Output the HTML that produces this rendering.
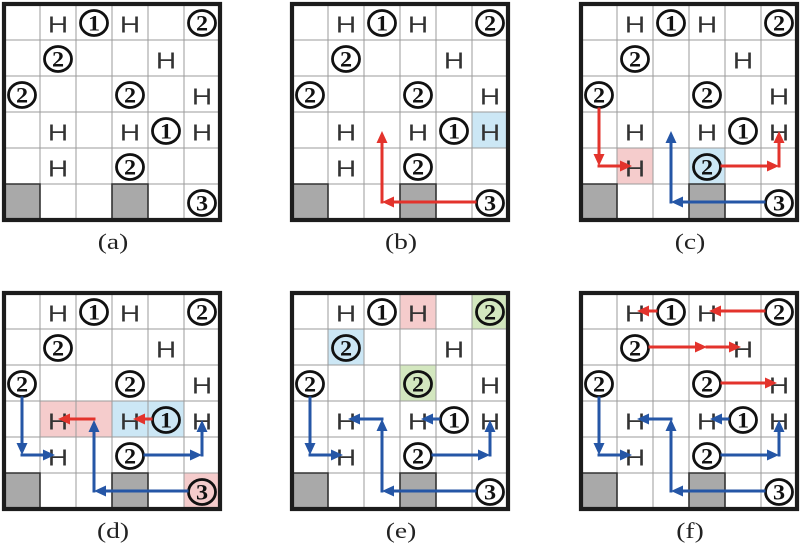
<!DOCTYPE html>
<html>
<head>
<meta charset="utf-8">
<style>
html,body{margin:0;padding:0;background:#fff;}
svg{display:block;}
.h{font-family:"Liberation Sans",sans-serif;font-size:23px;fill:#333;text-anchor:middle;}
.n{font-family:"Liberation Serif",serif;font-weight:bold;font-size:22px;fill:#111;text-anchor:middle;}
.c{fill:none;stroke:#111;stroke-width:2.8;}
.r{stroke:#e3332c;stroke-width:3;stroke-linecap:square;fill:none;marker-end:url(#mr);}
.b{stroke:#2556a6;stroke-width:3;stroke-linecap:square;fill:none;marker-end:url(#mb);}
.lbl{font-family:"Liberation Serif",serif;font-size:22px;fill:#222;text-anchor:middle;}
</style>
</head>
<body>
<svg width="800" height="546" viewBox="0 0 800 546" xmlns="http://www.w3.org/2000/svg">
<defs>
<marker id="mr" viewBox="0 0 12 11" refX="7" refY="5.5" markerWidth="12" markerHeight="11" markerUnits="userSpaceOnUse" orient="auto"><path d="M0,0L12,5.5L0,11z" fill="#e3332c"/></marker>
<marker id="mb" viewBox="0 0 12 11" refX="7" refY="5.5" markerWidth="12" markerHeight="11" markerUnits="userSpaceOnUse" orient="auto"><path d="M0,0L12,5.5L0,11z" fill="#2556a6"/></marker>
</defs>
<rect width="800" height="546" fill="#fff"/>

<!-- Panel A -->
<g transform="translate(4 4)">
<rect width="216" height="216" fill="#fff"/>
<rect x="0" y="180" width="36" height="36" fill="#a9a9a9"/><rect x="108" y="180" width="36" height="36" fill="#a9a9a9"/>
<path d="M36 0V216M72 0V216M108 0V216M144 0V216M180 0V216M0 36H216M0 72H216M0 108H216M0 144H216M0 180H216" stroke="#9b9b9b" stroke-width="1" fill="none"/>
<path d="M0 180H36V216M108 216V180H144V216" stroke="#333" stroke-width="1.6" fill="none"/>
<rect width="216" height="216" fill="none" stroke="#1c1c1c" stroke-width="4.2"/>
<text class="h" transform="translate(54 28.5) scale(1.22 1)">H</text>
<text class="h" transform="translate(126 28.5) scale(1.22 1)">H</text>
<text class="h" transform="translate(162 64.5) scale(1.22 1)">H</text>
<text class="h" transform="translate(198 100.5) scale(1.22 1)">H</text>
<text class="h" transform="translate(54 136.5) scale(1.22 1)">H</text>
<text class="h" transform="translate(126 136.5) scale(1.22 1)">H</text>
<text class="h" transform="translate(198 136.5) scale(1.22 1)">H</text>
<text class="h" transform="translate(54 172.5) scale(1.22 1)">H</text>
<ellipse class="c" cx="90" cy="19" rx="13.5" ry="12.5"/>
<ellipse class="c" cx="198" cy="19" rx="13.5" ry="12.5"/>
<ellipse class="c" cx="54" cy="55" rx="13.5" ry="12.5"/>
<ellipse class="c" cx="18" cy="91" rx="13.5" ry="12.5"/>
<ellipse class="c" cx="126" cy="91" rx="13.5" ry="12.5"/>
<ellipse class="c" cx="162" cy="127" rx="13.5" ry="12.5"/>
<ellipse class="c" cx="126" cy="163" rx="13.5" ry="12.5"/>
<ellipse class="c" cx="198" cy="199" rx="13.5" ry="12.5"/>
<text class="n" transform="translate(90 26.5) scale(1.1 1)">1</text>
<text class="n" transform="translate(198 26.5) scale(1.1 1)">2</text>
<text class="n" transform="translate(54 62.5) scale(1.1 1)">2</text>
<text class="n" transform="translate(18 98.5) scale(1.1 1)">2</text>
<text class="n" transform="translate(126 98.5) scale(1.1 1)">2</text>
<text class="n" transform="translate(162 134.5) scale(1.1 1)">1</text>
<text class="n" transform="translate(126 170.5) scale(1.1 1)">2</text>
<text class="n" transform="translate(198 206.5) scale(1.1 1)">3</text>
</g>

<!-- Panel B -->
<g transform="translate(292 4)">
<rect width="216" height="216" fill="#fff"/>
<rect x="180" y="108" width="36" height="36" fill="#cce7f5"/>
<rect x="0" y="180" width="36" height="36" fill="#a9a9a9"/><rect x="108" y="180" width="36" height="36" fill="#a9a9a9"/>
<path d="M36 0V216M72 0V216M108 0V216M144 0V216M180 0V216M0 36H216M0 72H216M0 108H216M0 144H216M0 180H216" stroke="#9b9b9b" stroke-width="1" fill="none"/>
<path d="M0 180H36V216M108 216V180H144V216" stroke="#333" stroke-width="1.6" fill="none"/>
<rect width="216" height="216" fill="none" stroke="#1c1c1c" stroke-width="4.2"/>
<text class="h" transform="translate(54 28.5) scale(1.22 1)">H</text>
<text class="h" transform="translate(126 28.5) scale(1.22 1)">H</text>
<text class="h" transform="translate(162 64.5) scale(1.22 1)">H</text>
<text class="h" transform="translate(198 100.5) scale(1.22 1)">H</text>
<text class="h" transform="translate(54 136.5) scale(1.22 1)">H</text>
<text class="h" transform="translate(126 136.5) scale(1.22 1)">H</text>
<text class="h" transform="translate(198 136.5) scale(1.22 1)">H</text>
<text class="h" transform="translate(54 172.5) scale(1.22 1)">H</text>
<ellipse class="c" cx="90" cy="19" rx="13.5" ry="12.5"/>
<ellipse class="c" cx="198" cy="19" rx="13.5" ry="12.5"/>
<ellipse class="c" cx="54" cy="55" rx="13.5" ry="12.5"/>
<ellipse class="c" cx="18" cy="91" rx="13.5" ry="12.5"/>
<ellipse class="c" cx="126" cy="91" rx="13.5" ry="12.5"/>
<ellipse class="c" cx="162" cy="127" rx="13.5" ry="12.5"/>
<ellipse class="c" cx="126" cy="163" rx="13.5" ry="12.5"/>
<ellipse class="c" cx="198" cy="199" rx="13.5" ry="12.5"/>
<text class="n" transform="translate(90 26.5) scale(1.1 1)">1</text>
<text class="n" transform="translate(198 26.5) scale(1.1 1)">2</text>
<text class="n" transform="translate(54 62.5) scale(1.1 1)">2</text>
<text class="n" transform="translate(18 98.5) scale(1.1 1)">2</text>
<text class="n" transform="translate(126 98.5) scale(1.1 1)">2</text>
<text class="n" transform="translate(162 134.5) scale(1.1 1)">1</text>
<text class="n" transform="translate(126 170.5) scale(1.1 1)">2</text>
<text class="n" transform="translate(198 206.5) scale(1.1 1)">3</text>
<line class="r" x1="183" y1="198" x2="95" y2="198"/>
<line class="r" x1="90" y1="198" x2="90" y2="132"/>
</g>

<!-- Panel C -->
<g transform="translate(581 4)">
<rect width="216" height="216" fill="#fff"/>
<rect x="36" y="144" width="36" height="36" fill="#f5cccc"/>
<rect x="108" y="144" width="36" height="36" fill="#cce7f5"/>
<rect x="0" y="180" width="36" height="36" fill="#a9a9a9"/><rect x="108" y="180" width="36" height="36" fill="#a9a9a9"/>
<path d="M36 0V216M72 0V216M108 0V216M144 0V216M180 0V216M0 36H216M0 72H216M0 108H216M0 144H216M0 180H216" stroke="#9b9b9b" stroke-width="1" fill="none"/>
<path d="M0 180H36V216M108 216V180H144V216" stroke="#333" stroke-width="1.6" fill="none"/>
<rect width="216" height="216" fill="none" stroke="#1c1c1c" stroke-width="4.2"/>
<text class="h" transform="translate(54 28.5) scale(1.22 1)">H</text>
<text class="h" transform="translate(126 28.5) scale(1.22 1)">H</text>
<text class="h" transform="translate(162 64.5) scale(1.22 1)">H</text>
<text class="h" transform="translate(198 100.5) scale(1.22 1)">H</text>
<text class="h" transform="translate(54 136.5) scale(1.22 1)">H</text>
<text class="h" transform="translate(126 136.5) scale(1.22 1)">H</text>
<text class="h" transform="translate(198 136.5) scale(1.22 1)">H</text>
<text class="h" transform="translate(54 172.5) scale(1.22 1)">H</text>
<ellipse class="c" cx="90" cy="19" rx="13.5" ry="12.5"/>
<ellipse class="c" cx="198" cy="19" rx="13.5" ry="12.5"/>
<ellipse class="c" cx="54" cy="55" rx="13.5" ry="12.5"/>
<ellipse class="c" cx="18" cy="91" rx="13.5" ry="12.5"/>
<ellipse class="c" cx="126" cy="91" rx="13.5" ry="12.5"/>
<ellipse class="c" cx="162" cy="127" rx="13.5" ry="12.5"/>
<ellipse class="c" cx="126" cy="163" rx="13.5" ry="12.5"/>
<ellipse class="c" cx="198" cy="199" rx="13.5" ry="12.5"/>
<text class="n" transform="translate(90 26.5) scale(1.1 1)">1</text>
<text class="n" transform="translate(198 26.5) scale(1.1 1)">2</text>
<text class="n" transform="translate(54 62.5) scale(1.1 1)">2</text>
<text class="n" transform="translate(18 98.5) scale(1.1 1)">2</text>
<text class="n" transform="translate(126 98.5) scale(1.1 1)">2</text>
<text class="n" transform="translate(162 134.5) scale(1.1 1)">1</text>
<text class="n" transform="translate(126 170.5) scale(1.1 1)">2</text>
<text class="n" transform="translate(198 206.5) scale(1.1 1)">3</text>
<line class="r" x1="18" y1="105" x2="18" y2="157"/>
<line class="r" x1="18" y1="162" x2="46" y2="162"/>
<line class="r" x1="141" y1="162" x2="193" y2="162"/>
<line class="r" x1="198" y1="162" x2="198" y2="132"/>
<line class="b" x1="183" y1="198" x2="95" y2="198"/>
<line class="b" x1="90" y1="198" x2="90" y2="132"/>
</g>

<!-- Panel D -->
<g transform="translate(4 293)">
<rect width="216" height="216" fill="#fff"/>
<rect x="36" y="108" width="72" height="36" fill="#f5cccc"/>
<rect x="108" y="108" width="72" height="36" fill="#cce7f5"/>
<rect x="180" y="180" width="36" height="36" fill="#f5cccc"/>
<rect x="0" y="180" width="36" height="36" fill="#a9a9a9"/><rect x="108" y="180" width="36" height="36" fill="#a9a9a9"/>
<path d="M36 0V216M72 0V216M108 0V216M144 0V216M180 0V216M0 36H216M0 72H216M0 108H216M0 144H216M0 180H216" stroke="#9b9b9b" stroke-width="1" fill="none"/>
<path d="M0 180H36V216M108 216V180H144V216" stroke="#333" stroke-width="1.6" fill="none"/>
<rect width="216" height="216" fill="none" stroke="#1c1c1c" stroke-width="4.2"/>
<text class="h" transform="translate(54 28.5) scale(1.22 1)">H</text>
<text class="h" transform="translate(126 28.5) scale(1.22 1)">H</text>
<text class="h" transform="translate(162 64.5) scale(1.22 1)">H</text>
<text class="h" transform="translate(198 100.5) scale(1.22 1)">H</text>
<text class="h" transform="translate(54 136.5) scale(1.22 1)">H</text>
<text class="h" transform="translate(126 136.5) scale(1.22 1)">H</text>
<text class="h" transform="translate(198 136.5) scale(1.22 1)">H</text>
<text class="h" transform="translate(54 172.5) scale(1.22 1)">H</text>
<ellipse class="c" cx="90" cy="19" rx="13.5" ry="12.5"/>
<ellipse class="c" cx="198" cy="19" rx="13.5" ry="12.5"/>
<ellipse class="c" cx="54" cy="55" rx="13.5" ry="12.5"/>
<ellipse class="c" cx="18" cy="91" rx="13.5" ry="12.5"/>
<ellipse class="c" cx="126" cy="91" rx="13.5" ry="12.5"/>
<ellipse class="c" cx="162" cy="127" rx="13.5" ry="12.5"/>
<ellipse class="c" cx="126" cy="163" rx="13.5" ry="12.5"/>
<ellipse class="c" cx="198" cy="199" rx="13.5" ry="12.5"/>
<text class="n" transform="translate(90 26.5) scale(1.1 1)">1</text>
<text class="n" transform="translate(198 26.5) scale(1.1 1)">2</text>
<text class="n" transform="translate(54 62.5) scale(1.1 1)">2</text>
<text class="n" transform="translate(18 98.5) scale(1.1 1)">2</text>
<text class="n" transform="translate(126 98.5) scale(1.1 1)">2</text>
<text class="n" transform="translate(162 134.5) scale(1.1 1)">1</text>
<text class="n" transform="translate(126 170.5) scale(1.1 1)">2</text>
<text class="n" transform="translate(198 206.5) scale(1.1 1)">3</text>
<line class="r" x1="147" y1="126" x2="134" y2="126"/>
<line class="r" x1="90" y1="126" x2="59" y2="126"/>
<line class="b" x1="18" y1="105" x2="18" y2="157"/>
<line class="b" x1="18" y1="162" x2="46" y2="162"/>
<line class="b" x1="141" y1="162" x2="193" y2="162"/>
<line class="b" x1="198" y1="162" x2="198" y2="132"/>
<line class="b" x1="183" y1="198" x2="95" y2="198"/>
<line class="b" x1="90" y1="198" x2="90" y2="132"/>
</g>

<!-- Panel E -->
<g transform="translate(292 293)">
<rect width="216" height="216" fill="#fff"/>
<rect x="108" y="0" width="36" height="36" fill="#f5cccc"/>
<rect x="180" y="0" width="36" height="36" fill="#d3e7bf"/>
<rect x="108" y="72" width="36" height="36" fill="#d3e7bf"/>
<rect x="36" y="36" width="36" height="36" fill="#cce7f5"/>
<rect x="0" y="180" width="36" height="36" fill="#a9a9a9"/><rect x="108" y="180" width="36" height="36" fill="#a9a9a9"/>
<path d="M36 0V216M72 0V216M108 0V216M144 0V216M180 0V216M0 36H216M0 72H216M0 108H216M0 144H216M0 180H216" stroke="#9b9b9b" stroke-width="1" fill="none"/>
<path d="M0 180H36V216M108 216V180H144V216" stroke="#333" stroke-width="1.6" fill="none"/>
<rect width="216" height="216" fill="none" stroke="#1c1c1c" stroke-width="4.2"/>
<text class="h" transform="translate(54 28.5) scale(1.22 1)">H</text>
<text class="h" transform="translate(126 28.5) scale(1.22 1)">H</text>
<text class="h" transform="translate(162 64.5) scale(1.22 1)">H</text>
<text class="h" transform="translate(198 100.5) scale(1.22 1)">H</text>
<text class="h" transform="translate(54 136.5) scale(1.22 1)">H</text>
<text class="h" transform="translate(126 136.5) scale(1.22 1)">H</text>
<text class="h" transform="translate(198 136.5) scale(1.22 1)">H</text>
<text class="h" transform="translate(54 172.5) scale(1.22 1)">H</text>
<ellipse class="c" cx="90" cy="19" rx="13.5" ry="12.5"/>
<ellipse class="c" cx="198" cy="19" rx="13.5" ry="12.5"/>
<ellipse class="c" cx="54" cy="55" rx="13.5" ry="12.5"/>
<ellipse class="c" cx="18" cy="91" rx="13.5" ry="12.5"/>
<ellipse class="c" cx="126" cy="91" rx="13.5" ry="12.5"/>
<ellipse class="c" cx="162" cy="127" rx="13.5" ry="12.5"/>
<ellipse class="c" cx="126" cy="163" rx="13.5" ry="12.5"/>
<ellipse class="c" cx="198" cy="199" rx="13.5" ry="12.5"/>
<text class="n" transform="translate(90 26.5) scale(1.1 1)">1</text>
<text class="n" transform="translate(198 26.5) scale(1.1 1)">2</text>
<text class="n" transform="translate(54 62.5) scale(1.1 1)">2</text>
<text class="n" transform="translate(18 98.5) scale(1.1 1)">2</text>
<text class="n" transform="translate(126 98.5) scale(1.1 1)">2</text>
<text class="n" transform="translate(162 134.5) scale(1.1 1)">1</text>
<text class="n" transform="translate(126 170.5) scale(1.1 1)">2</text>
<text class="n" transform="translate(198 206.5) scale(1.1 1)">3</text>
<line class="b" x1="18" y1="105" x2="18" y2="157"/>
<line class="b" x1="18" y1="162" x2="46" y2="162"/>
<line class="b" x1="141" y1="162" x2="193" y2="162"/>
<line class="b" x1="198" y1="162" x2="198" y2="132"/>
<line class="b" x1="183" y1="198" x2="95" y2="198"/>
<line class="b" x1="90" y1="126" x2="61" y2="126"/>
<line class="b" x1="90" y1="198" x2="90" y2="131"/>
<line class="b" x1="147" y1="126" x2="134" y2="126"/>
</g>

<!-- Panel F -->
<g transform="translate(581 293)">
<rect width="216" height="216" fill="#fff"/>
<rect x="0" y="180" width="36" height="36" fill="#a9a9a9"/><rect x="108" y="180" width="36" height="36" fill="#a9a9a9"/>
<path d="M36 0V216M72 0V216M108 0V216M144 0V216M180 0V216M0 36H216M0 72H216M0 108H216M0 144H216M0 180H216" stroke="#9b9b9b" stroke-width="1" fill="none"/>
<path d="M0 180H36V216M108 216V180H144V216" stroke="#333" stroke-width="1.6" fill="none"/>
<rect width="216" height="216" fill="none" stroke="#1c1c1c" stroke-width="4.2"/>
<text class="h" transform="translate(54 28.5) scale(1.22 1)">H</text>
<text class="h" transform="translate(126 28.5) scale(1.22 1)">H</text>
<text class="h" transform="translate(162 64.5) scale(1.22 1)">H</text>
<text class="h" transform="translate(198 100.5) scale(1.22 1)">H</text>
<text class="h" transform="translate(54 136.5) scale(1.22 1)">H</text>
<text class="h" transform="translate(126 136.5) scale(1.22 1)">H</text>
<text class="h" transform="translate(198 136.5) scale(1.22 1)">H</text>
<text class="h" transform="translate(54 172.5) scale(1.22 1)">H</text>
<ellipse class="c" cx="90" cy="19" rx="13.5" ry="12.5"/>
<ellipse class="c" cx="198" cy="19" rx="13.5" ry="12.5"/>
<ellipse class="c" cx="54" cy="55" rx="13.5" ry="12.5"/>
<ellipse class="c" cx="18" cy="91" rx="13.5" ry="12.5"/>
<ellipse class="c" cx="126" cy="91" rx="13.5" ry="12.5"/>
<ellipse class="c" cx="162" cy="127" rx="13.5" ry="12.5"/>
<ellipse class="c" cx="126" cy="163" rx="13.5" ry="12.5"/>
<ellipse class="c" cx="198" cy="199" rx="13.5" ry="12.5"/>
<text class="n" transform="translate(90 26.5) scale(1.1 1)">1</text>
<text class="n" transform="translate(198 26.5) scale(1.1 1)">2</text>
<text class="n" transform="translate(54 62.5) scale(1.1 1)">2</text>
<text class="n" transform="translate(18 98.5) scale(1.1 1)">2</text>
<text class="n" transform="translate(126 98.5) scale(1.1 1)">2</text>
<text class="n" transform="translate(162 134.5) scale(1.1 1)">1</text>
<text class="n" transform="translate(126 170.5) scale(1.1 1)">2</text>
<text class="n" transform="translate(198 206.5) scale(1.1 1)">3</text>
<line class="r" x1="75" y1="18" x2="61" y2="18"/>
<line class="r" x1="183" y1="18" x2="133" y2="18"/>
<line class="r" x1="69" y1="54" x2="121" y2="54"/>
<line class="r" x1="126" y1="54" x2="155" y2="54"/>
<line class="r" x1="141" y1="90" x2="191" y2="90"/>
<line class="b" x1="18" y1="105" x2="18" y2="157"/>
<line class="b" x1="18" y1="162" x2="46" y2="162"/>
<line class="b" x1="141" y1="162" x2="193" y2="162"/>
<line class="b" x1="198" y1="162" x2="198" y2="132"/>
<line class="b" x1="183" y1="198" x2="95" y2="198"/>
<line class="b" x1="90" y1="126" x2="61" y2="126"/>
<line class="b" x1="90" y1="198" x2="90" y2="131"/>
<line class="b" x1="147" y1="126" x2="134" y2="126"/>
</g>

<!-- Labels -->
<text class="lbl" transform="translate(113 249) scale(1.25 1)">(a)</text>
<text class="lbl" transform="translate(401 249) scale(1.25 1)">(b)</text>
<text class="lbl" transform="translate(690 249) scale(1.25 1)">(c)</text>
<text class="lbl" transform="translate(113 538) scale(1.25 1)">(d)</text>
<text class="lbl" transform="translate(401 538) scale(1.25 1)">(e)</text>
<text class="lbl" transform="translate(690 538) scale(1.25 1)">(f)</text>
</svg>
</body>
</html>
